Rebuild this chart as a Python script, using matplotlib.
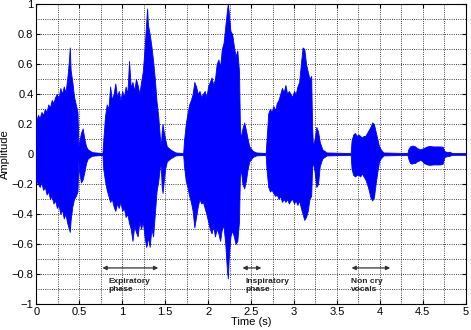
import matplotlib
matplotlib.use("Agg")

import matplotlib.pyplot as plt
import numpy as np
from matplotlib.ticker import MultipleLocator


# envelope of the cry waveform (time in s, amplitude)
time_s = [
    0.00, 0.02, 0.04, 0.06, 0.08, 0.10, 0.12, 0.14, 0.16, 0.18,
    0.20, 0.22, 0.24, 0.26, 0.28, 0.30, 0.32, 0.34, 0.36, 0.38,
    0.39, 0.40, 0.42, 0.44, 0.46, 0.48, 0.49, 0.50, 0.52, 0.54,
    0.56, 0.58, 0.60, 0.65, 0.77,
    0.78, 0.80, 0.82, 0.84, 0.86, 0.88, 0.90, 0.92, 0.94, 0.96,
    0.98, 1.00, 1.02, 1.04, 1.06, 1.08, 1.10, 1.12, 1.14, 1.16,
    1.18, 1.20, 1.22, 1.24, 1.26, 1.28, 1.29, 1.30, 1.32, 1.34,
    1.36, 1.38, 1.40, 1.42, 1.44, 1.45, 1.46, 1.47, 1.48, 1.50,
    1.52, 1.56, 1.62, 1.71,
    1.72, 1.74, 1.76, 1.78, 1.80, 1.82, 1.84, 1.86, 1.88, 1.90,
    1.92, 1.94, 1.96, 1.98, 2.00, 2.02, 2.04, 2.06, 2.08, 2.10,
    2.12, 2.14, 2.16, 2.18, 2.20, 2.22, 2.23, 2.24, 2.26, 2.28,
    2.30, 2.32, 2.34, 2.36, 2.37, 2.38, 2.40, 2.42, 2.44, 2.46,
    2.48, 2.52, 2.56, 2.67,
    2.68, 2.70, 2.72, 2.74, 2.76, 2.78, 2.80, 2.82, 2.84, 2.86,
    2.88, 2.90, 2.92, 2.94, 2.96, 2.98, 3.00, 3.02, 3.04, 3.06,
    3.08, 3.10, 3.12, 3.14, 3.16, 3.18, 3.20, 3.21, 3.22, 3.24,
    3.26, 3.28, 3.30, 3.33, 3.38, 3.66,
    3.67, 3.69, 3.71, 3.73, 3.75, 3.77, 3.79, 3.81, 3.83, 3.85,
    3.87, 3.89, 3.91, 3.93, 3.95, 3.97, 3.99, 4.01, 4.04, 4.32,
    4.33, 4.35, 4.37, 4.39, 4.41, 4.43, 4.45, 4.47, 4.49, 4.51,
    4.53, 4.55, 4.58, 4.62, 4.66, 4.70, 4.73, 4.75, 4.78, 4.81,
    4.84, 5.00,
]
upper = [
    0.22, 0.26, 0.24, 0.28, 0.26, 0.30, 0.28, 0.33, 0.31, 0.36,
    0.34, 0.38, 0.40, 0.37, 0.44, 0.40, 0.45, 0.41, 0.50, 0.62,
    0.71, 0.56, 0.48, 0.38, 0.33, 0.28, 0.05, 0.08, 0.14, 0.17,
    0.10, 0.05, 0.03, 0.012, 0.006,
    0.09, 0.25, 0.33, 0.30, 0.45, 0.36, 0.40, 0.47, 0.38, 0.42,
    0.36, 0.42, 0.38, 0.45, 0.40, 0.62, 0.44, 0.48, 0.42, 0.50,
    0.46, 0.40, 0.48, 0.55, 0.70, 0.88, 0.97, 0.86, 0.80, 0.72,
    0.62, 0.50, 0.35, 0.25, 0.10, 0.05, 0.15, 0.20, 0.16, 0.10,
    0.05, 0.03, 0.01, 0.006,
    0.09, 0.20, 0.27, 0.33, 0.36, 0.40, 0.48, 0.45, 0.40, 0.42,
    0.38, 0.40, 0.42, 0.38, 0.45, 0.48, 0.51, 0.46, 0.50, 0.60,
    0.63, 0.58, 0.70, 0.74, 0.85, 0.96, 1.00, 0.95, 0.82, 0.80,
    0.72, 0.65, 0.69, 0.55, 0.20, 0.10, 0.17, 0.21, 0.16, 0.10,
    0.05, 0.02, 0.01, 0.006,
    0.09, 0.27, 0.30, 0.28, 0.32, 0.29, 0.34, 0.36, 0.40, 0.44,
    0.41, 0.46, 0.40, 0.42, 0.40, 0.38, 0.42, 0.40, 0.45, 0.48,
    0.60, 0.71, 0.70, 0.60, 0.55, 0.50, 0.52, 0.20, 0.05, 0.10,
    0.18, 0.15, 0.08, 0.03, 0.01, 0.006,
    0.09, 0.13, 0.14, 0.12, 0.13, 0.12, 0.11, 0.12, 0.12, 0.14,
    0.16, 0.18, 0.21, 0.20, 0.15, 0.10, 0.05, 0.03, 0.01, 0.006,
    0.03, 0.05, 0.055, 0.055, 0.05, 0.04, 0.035, 0.03, 0.035, 0.04,
    0.045, 0.05, 0.053, 0.05, 0.05, 0.05, 0.048, 0.02, 0.012, 0.015,
    0.006, 0.006,
]
lower = [
    -0.18, -0.20, -0.22, -0.19, -0.24, -0.22, -0.27, -0.25, -0.30, -0.28,
    -0.33, -0.31, -0.36, -0.34, -0.40, -0.37, -0.43, -0.40, -0.46, -0.50,
    -0.52, -0.44, -0.35, -0.30, -0.28, -0.25, -0.05, -0.12, -0.19, -0.17,
    -0.12, -0.06, -0.03, -0.012, -0.006,
    -0.10, -0.18, -0.24, -0.28, -0.32, -0.30, -0.35, -0.38, -0.33, -0.36,
    -0.32, -0.38, -0.36, -0.42, -0.40, -0.46, -0.50, -0.58, -0.48, -0.52,
    -0.55, -0.45, -0.50, -0.45, -0.55, -0.62, -0.60, -0.55, -0.62, -0.50,
    -0.55, -0.40, -0.25, -0.18, -0.08, -0.08, -0.22, -0.26, -0.20, -0.10,
    -0.05, -0.03, -0.01, -0.006,
    -0.08, -0.18, -0.22, -0.28, -0.32, -0.38, -0.49, -0.42, -0.35, -0.30,
    -0.33, -0.32, -0.36, -0.40, -0.45, -0.50, -0.53, -0.48, -0.55, -0.50,
    -0.53, -0.58, -0.50, -0.48, -0.60, -0.78, -0.83, -0.70, -0.55, -0.51,
    -0.55, -0.60, -0.58, -0.45, -0.15, -0.10, -0.20, -0.23, -0.18, -0.10,
    -0.05, -0.02, -0.01, -0.006,
    -0.10, -0.22, -0.25, -0.24, -0.26, -0.28, -0.27, -0.30, -0.28, -0.32,
    -0.30, -0.32, -0.30, -0.33, -0.31, -0.30, -0.33, -0.31, -0.34, -0.31,
    -0.36, -0.40, -0.44, -0.42, -0.38, -0.30, -0.28, -0.10, -0.05, -0.12,
    -0.22, -0.20, -0.08, -0.03, -0.01, -0.006,
    -0.10, -0.14, -0.15, -0.14, -0.14, -0.15, -0.13, -0.15, -0.17, -0.20,
    -0.24, -0.29, -0.31, -0.29, -0.20, -0.12, -0.05, -0.03, -0.01, -0.006,
    -0.03, -0.06, -0.065, -0.06, -0.06, -0.05, -0.045, -0.04, -0.045, -0.06,
    -0.065, -0.07, -0.073, -0.07, -0.07, -0.07, -0.065, -0.02, -0.015, -0.012,
    -0.006, -0.006,
]

# phase annotations: label, arrow start, arrow end, text x
phase_labels = ["Expiratory\nphase", "Inspiratory\nphase", "Non cry\nvocals"]
arrow_start = [0.77, 2.40, 3.67]
arrow_end = [1.42, 2.62, 4.12]
text_x = [0.84, 2.44, 3.66]


def tick_text(v, pos):
    v = round(v, 2)
    if v == 0:
        return "0"
    return f"{v:g}".replace("-", "\u2212")


def main():
    plt.rcParams["font.family"] = ["Liberation Sans", "DejaVu Sans"]

    fig = plt.figure(figsize=(4.71, 3.30), dpi=100)
    ax = fig.add_axes([0.077, 0.079, 0.912, 0.909])

    t = np.array(time_s)
    ax.fill_between(t, lower, upper, color="#0000ff", linewidth=0.6,
                    edgecolor="#0000ff", zorder=3)

    ax.set_xlim(0, 5)
    ax.set_ylim(-1, 1)
    ax.xaxis.set_major_locator(MultipleLocator(0.5))
    ax.xaxis.set_minor_locator(MultipleLocator(0.25))
    ax.yaxis.set_major_locator(MultipleLocator(0.2))
    ax.yaxis.set_minor_locator(MultipleLocator(0.1))
    ax.xaxis.set_major_formatter(tick_text)
    ax.yaxis.set_major_formatter(tick_text)

    ax.grid(which="both", color="black", linestyle=":", linewidth=0.6, zorder=0)
    ax.set_axisbelow(True)
    ax.tick_params(which="major", direction="in", length=3, width=0.8,
                   top=True, right=True, labelsize=8, pad=2)
    ax.tick_params(which="minor", length=0)
    for spine in ax.spines.values():
        spine.set_linewidth(0.8)

    ax.set_xlabel("Time (s)", fontsize=8, labelpad=0)
    ax.set_ylabel("Amplitude", fontsize=8, labelpad=1)

    for label, x0, x1, tx in zip(phase_labels, arrow_start, arrow_end, text_x):
        ax.annotate("", xy=(x1, -0.76), xytext=(x0, -0.76),
                    arrowprops=dict(arrowstyle="<|-|>", color="#333333",
                                    lw=0.9, mutation_scale=6,
                                    shrinkA=0, shrinkB=0), zorder=4)
        ax.text(tx, -0.83, label, fontsize=6, fontweight="bold", ha="left",
                va="top", color="#222222", linespacing=1.05, zorder=4)

    fig.savefig("out.png", dpi=100)
    plt.close(fig)


if __name__ == "__main__":
    main()
